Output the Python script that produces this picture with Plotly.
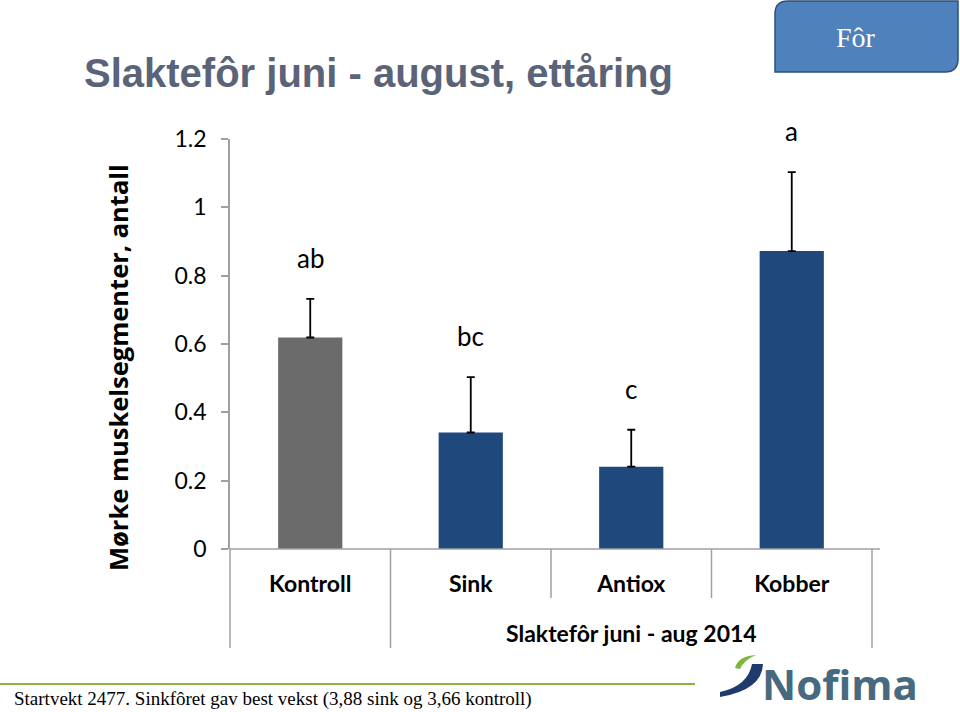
import plotly.graph_objects as go

categories = ["Kontroll", "Sink", "Antiox", "Kobber"]
values = [0.619, 0.341, 0.241, 0.872]
err_upper = [0.113, 0.162, 0.108, 0.231]
sig_letters = ["ab", "bc", "c", "a"]
bar_colors = ["#6B6B6B", "#1F497D", "#1F497D", "#1F497D"]
y_ticks = [0, 0.2, 0.4, 0.6, 0.8, 1.0, 1.2]
y_tick_text = ["0", "0.2", "0.4", "0.6", "0.8", "1", "1.2"]
group_label = "Slaktefôr juni - aug 2014"
title_text = "Slaktefôr juni - august, ettåring"
y_title = "Mørke muskelsegmenter, antall"
footnote = "Startvekt 2477. Sinkfôret gav best vekst (3,88 sink og 3,66 kontroll)"
box_text = "Fôr"

W, H = 960, 712
L, R, T, B = 230, 88, 139, 163
PW, PH = W - L - R, H - T - B


def px(x):
    return (x - L) / PW


def py(y):
    return (H - B - y) / PH


def cat_paper(v):
    # category axis range is [-0.5, n-0.5]
    return (v + 0.5) / len(categories)


fig = go.Figure()
fig.add_trace(go.Bar(
    x=categories, y=values,
    marker=dict(color=bar_colors, line=dict(width=0)),
    width=0.4,
    error_y=dict(type="data", symmetric=False, array=err_upper,
                 arrayminus=[0] * len(values), color="black",
                 thickness=1.8, width=4),
    showlegend=False,
))

annotations = []
for c, v, e, s in zip(categories, values, err_upper, sig_letters):
    annotations.append(dict(x=c, y=v + e, xref="x", yref="y", text=s,
                            showarrow=False, yanchor="bottom", yshift=23,
                            font=dict(family="Lato", size=26, color="black")))

# group label
annotations.append(dict(x=(cat_paper(0.5) + cat_paper(3.5)) / 2, y=py(633),
                        xref="paper", yref="paper", text=group_label,
                        showarrow=False, xanchor="center", yanchor="middle",
                        font=dict(family="Lato", size=23, color="black", weight="bold")))
# title
annotations.append(dict(x=px(82), y=py(73), xref="paper", yref="paper",
                        text=title_text, showarrow=False, xanchor="left",
                        yanchor="middle",
                        font=dict(family="Liberation Sans", size=40,
                                  color="#5B6378", weight="bold")))
# y title
annotations.append(dict(x=px(118), y=py(368), xref="paper", yref="paper",
                        text=y_title, showarrow=False, textangle=-90,
                        xanchor="center", yanchor="middle",
                        font=dict(family="Open Sans", size=25.5, color="black",
                                  weight="bold")))
# box text
annotations.append(dict(x=px(856), y=py(37), xref="paper", yref="paper",
                        text=box_text, showarrow=False, xanchor="center",
                        yanchor="middle",
                        font=dict(family="Liberation Serif", size=28, color="white")))
# footnote
annotations.append(dict(x=px(12), y=py(699), xref="paper", yref="paper",
                        text=footnote, showarrow=False, xanchor="left",
                        yanchor="middle",
                        font=dict(family="Liberation Serif", size=19, color="black")))
# logo text
annotations.append(dict(x=px(760), y=py(683), xref="paper", yref="paper",
                        text="Nofima", showarrow=False, xanchor="left",
                        yanchor="middle",
                        font=dict(family="Open Sans", size=42, color="#476A80",
                                  weight="bold")))

shapes = []
axis_col = "#A0A0A0"
# category dividers
for b, bottom in zip([-0.5, 0.5, 1.5, 2.5, 3.5], [648, 648, 598, 598, 648]):
    shapes.append(dict(type="line", xref="paper", yref="paper",
                       x0=cat_paper(b), x1=cat_paper(b), y0=py(549), y1=py(bottom),
                       line=dict(color=axis_col, width=1.5)))
# x axis line extension
shapes.append(dict(type="line", xref="paper", yref="paper", x0=px(229), x1=px(880),
                   y0=py(549), y1=py(549), line=dict(color=axis_col, width=1.5)))

# Fôr box with rounded top-left and bottom-right corners
x0, x1, y0, y1, r = 775, 958, 1, 72, 13
path = (f"M {px(x0)},{py(y0 + r)} Q {px(x0)},{py(y0)} {px(x0 + r)},{py(y0)} "
        f"L {px(x1)},{py(y0)} L {px(x1)},{py(y1 - r)} "
        f"Q {px(x1)},{py(y1)} {px(x1 - r)},{py(y1)} L {px(x0)},{py(y1)} Z")
shapes.append(dict(type="path", xref="paper", yref="paper", path=path,
                   fillcolor="#4F81BD", line=dict(color="#2F4F7A", width=1.5)))

# green line
shapes.append(dict(type="line", xref="paper", yref="paper", x0=px(0), x1=px(695),
                   y0=py(684), y1=py(684), line=dict(color="#8DB340", width=2)))

# logo swoosh (blue)
blue = (f"M {px(763)},{py(664)} Q {px(762)},{py(690)} {px(720)},{py(697)} "
        f"L {px(720)},{py(692)} Q {px(748)},{py(686)} {px(752)},{py(664)} Z")
shapes.append(dict(type="path", xref="paper", yref="paper", path=blue,
                   fillcolor="#1F3B6E", line=dict(width=0)))
# logo leaf (green)
green = (f"M {px(735)},{py(668)} Q {px(738)},{py(656)} {px(756)},{py(655)} "
         f"Q {px(744)},{py(660)} {px(740)},{py(669)} Z")
shapes.append(dict(type="path", xref="paper", yref="paper", path=green,
                   fillcolor="#7DB83A", line=dict(width=0)))

fig.update_layout(
    width=W, height=H,
    margin=dict(l=L, r=R, t=T, b=B, pad=0),
    paper_bgcolor="white", plot_bgcolor="white",
    bargap=0.6,
    xaxis=dict(type="category", range=[-0.5, 3.5], showline=False,
               showgrid=False, ticks="", zeroline=False,
               tickfont=dict(family="Lato", size=23, color="black", weight="bold"),
               ticklabelstandoff=19),
    yaxis=dict(range=[0, 1.2], tickvals=y_ticks, ticktext=y_tick_text,
               showline=True, linecolor=axis_col, linewidth=1.5,
               ticks="outside", ticklen=7, tickcolor=axis_col, tickwidth=1.5,
               showgrid=False, zeroline=False,
               tickfont=dict(family="Lato", size=23, color="black"),
               ticklabelstandoff=10),
    annotations=annotations,
    shapes=shapes,
)

fig.write_html("out.html")
